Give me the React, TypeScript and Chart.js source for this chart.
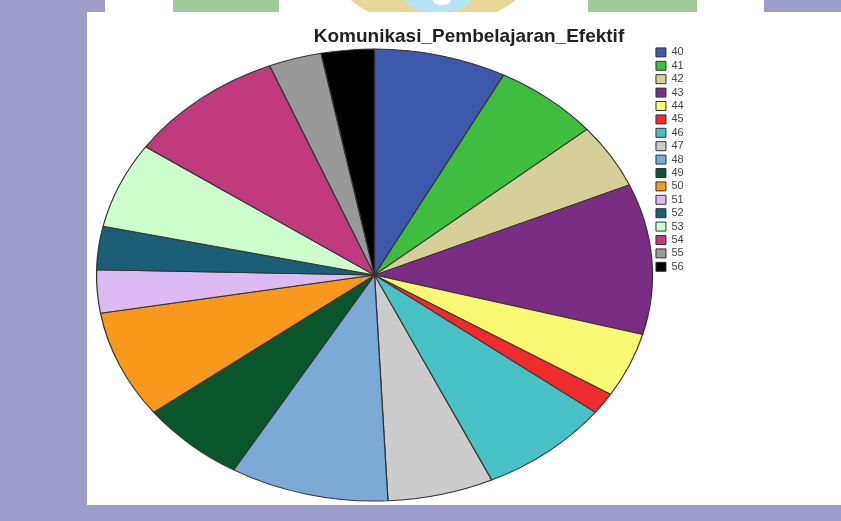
import React, { useEffect, useRef } from 'react';
import { Chart, registerables } from 'chart.js';

Chart.register(...registerables);

const chartTitle = 'Komunikasi_Pembelajaran_Efektif';
const categories = ['40', '41', '42', '43', '44', '45', '46', '47', '48', '49', '50', '51', '52', '53', '54', '55', '56'];
const counts = [5, 4, 3, 7, 3, 1, 5, 4, 6, 4, 5, 2, 2, 4, 6, 2, 2];
const sliceColors = [
  '#3e58ac', '#3ebd3e', '#d6d098', '#7b2c83', '#fbf873', '#ef2b2d', '#48c2c5', '#cccccc',
  '#7aaad5', '#0a562c', '#f8981d', '#ddbaf1', '#1a5f76', '#ccffcc', '#bf3b7d', '#999999', '#000000',
];

// Stretches the pie horizontally into an ellipse (the reference image is an oval pie)
const ellipsePlugin = {
  id: 'ellipseStretch',
  beforeDatasetsDraw(chart: any, _args: any, opts: any) {
    const arc = chart.getDatasetMeta(0).data[0];
    const ctx = chart.ctx;
    ctx.save();
    if (!arc) return;
    ctx.translate(opts.centerX, 0);
    ctx.scale(opts.scaleX, 1);
    ctx.translate(-arc.x, 0);
  },
  afterDatasetsDraw(chart: any) {
    chart.ctx.restore();
  },
};

function PieChart() {
  const ref = useRef<HTMLCanvasElement | null>(null);
  useEffect(() => {
    if (!ref.current) return;
    const chart = new Chart(ref.current, {
      type: 'pie',
      data: {
        labels: categories,
        datasets: [
          {
            data: counts,
            backgroundColor: sliceColors,
            borderColor: '#333333',
            borderWidth: 1,
            radius: 226,
          } as any,
        ],
      },
      options: {
        responsive: false,
        animation: false,
        events: [],
        layout: { padding: { left: 157.3, right: 147.3, top: 0, bottom: 2.6 } },
        plugins: {
          title: {
            display: true,
            text: chartTitle,
            color: '#222222',
            font: { family: '"Liberation Sans", Arial, sans-serif', size: 19, weight: 'bold', lineHeight: 1.2 },
            padding: { top: 13, bottom: 0 },
          },
          legend: {
            display: true,
            position: 'right',
            align: 'start',
            title: {
              display: true,
              text: ' ',
              font: { size: 10, lineHeight: 1.2 },
              padding: { top: 20.5, bottom: 0 },
            },
            labels: {
              boxWidth: 10,
              boxHeight: 9,
              padding: 2.4,
              color: '#444444',
              font: { family: '"Liberation Sans", Arial, sans-serif', size: 11 },
            },
          },
          tooltip: { enabled: false },
          ellipseStretch: { centerX: 287.5, scaleX: 1.23 },
        } as any,
      },
      plugins: [ellipsePlugin],
    });
    return () => chart.destroy();
  }, []);
  return <canvas ref={ref} width={754} height={493} style={{ display: 'block' }} />;
}

export default function App() {
  const lavender = '#9d9dc9';
  const green = '#a0cb98';
  return (
    <div style={{ position: 'absolute', left: 0, top: 0, width: 841, height: 521, background: lavender, overflow: 'hidden' }}>
      {/* top strip (document decoration) */}
      <div style={{ position: 'absolute', left: 105, top: 0, width: 659, height: 12, background: '#ffffff', overflow: 'hidden' }}>
        <div style={{ position: 'absolute', left: 68, top: 0, width: 106, height: 12, background: green }} />
        <div style={{ position: 'absolute', left: 483, top: 0, width: 109, height: 12, background: green }} />
        <div style={{ position: 'absolute', left: 233, top: -75, width: 190, height: 100, borderRadius: '50%', background: '#e8d696' }} />
        <div style={{ position: 'absolute', left: 300, top: -14, width: 66, height: 26, borderRadius: '50%', background: '#b3e5f6' }} />
        <div style={{ position: 'absolute', left: 328, top: -4, width: 18, height: 9, borderRadius: '50%', background: '#ffffff' }} />
      </div>
      <div style={{ position: 'absolute', left: 87, top: 12, width: 754, height: 493, background: '#ffffff' }}>
        <PieChart />
      </div>
    </div>
  );
}
